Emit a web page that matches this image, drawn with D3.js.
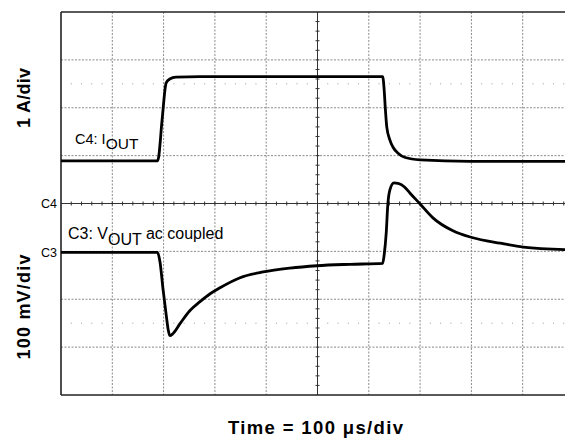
<!DOCTYPE html>
<html><head><meta charset="utf-8">
<script src="https://cdn.jsdelivr.net/npm/d3@7/dist/d3.min.js"></script>
<style>body{margin:0;background:#fff}svg{display:block}text{font-family:"Liberation Sans",Arial,sans-serif}</style>
</head><body><svg id="c" width="565" height="438"></svg>
<script>
// time in microseconds
const iTime = [0,188,190,197,205,212,224,271,627,630,632,635,641,647,657,671,700,797,1000];
// output current (A), relative to C4 marker
const iOut  = [0.89,0.89,0.95,1.74,2.52,2.60,2.64,2.65,2.65,2.37,2.02,1.60,1.33,1.18,1.05,0.96,0.91,0.88,0.88];
const vTime = [0,188,193,199,205,209,212,218,232,251,271,290,310,349,394,446,499,563,627,630,634,637,641,649,657,669,680,700,725,764,801,856,901,1000];
// output voltage, ac coupled (mV), relative to C3 marker
const vOut  = [0,0,-20,-78,-130,-162,-174,-170,-149,-122,-103,-87,-74,-53,-41,-33,-28,-25,-23,-5,41,99,130,145,144,137,124,101,72,45,31,19,11,5];
const xLabel = "Time = 100 \u03bcs/div";
const yLabelTop = "1 A/div";
const yLabelBottom = "100 mV/div";

const svg = d3.select("#c");
const L=61, T=12, B=395, W=513;
const x = d3.scaleLinear([0,1000],[L,L+W]);
const yI = d3.scaleLinear([-4,4],[B,T]);
const yV = d3.scaleLinear([-298,502],[B,T]);
const yDiv = d3.scaleLinear([-4,4],[B,T]);

const g = svg.append("g");
// grid
const xDivs = d3.range(1,10).filter(d=>d!==5);
const yDivs = d3.range(-3,4).filter(d=>d!==0);
g.selectAll("line.gx").data(xDivs).join("line")
  .attr("x1",d=>x(d*100)).attr("x2",d=>x(d*100)).attr("y1",T).attr("y2",B)
  .attr("stroke","#8a8a8a").attr("stroke-width",1).attr("stroke-dasharray","2,1.5");
g.selectAll("line.gy").data(yDivs).join("line")
  .attr("x1",L).attr("x2",L+W).attr("y1",d=>yDiv(d)).attr("y2",d=>yDiv(d))
  .attr("stroke","#8a8a8a").attr("stroke-width",1).attr("stroke-dasharray","2,1.5");
// dotted helper lines
const dots = d3.range(1,50).filter(d=>d%5!==0);
[2.5,-2.5].forEach(v=>{
  g.selectAll(null).data(dots).join("rect")
   .attr("x",d=>x(d*20)-0.5).attr("y",yDiv(v)-0.5).attr("width",1).attr("height",1).attr("fill","#999");
});
// center axes with ticks
g.append("line").attr("x1",L).attr("x2",L+W).attr("y1",yDiv(0)).attr("y2",yDiv(0)).attr("stroke","#333").attr("stroke-width",1);
g.append("line").attr("x1",x(500)).attr("x2",x(500)).attr("y1",T).attr("y2",B).attr("stroke","#333").attr("stroke-width",1);
g.selectAll(null).data(d3.range(1,50)).join("line")
  .attr("x1",d=>x(d*20)).attr("x2",d=>x(d*20)).attr("y1",yDiv(0)-2).attr("y2",yDiv(0)+2).attr("stroke","#333");
g.selectAll(null).data(d3.range(-19,20).map(d=>d/5)).join("line")
  .attr("y1",d=>yDiv(d)).attr("y2",d=>yDiv(d)).attr("x1",x(500)-2).attr("x2",x(500)+2).attr("stroke","#333");
// frame
g.append("line").attr("x1",L).attr("x2",565).attr("y1",T).attr("y2",T).attr("stroke","#222").attr("stroke-width",1.6);
g.append("line").attr("x1",L).attr("x2",565).attr("y1",B).attr("y2",B).attr("stroke","#222").attr("stroke-width",1.6);
g.append("line").attr("x1",L).attr("x2",L).attr("y1",T).attr("y2",B).attr("stroke","#222").attr("stroke-width",1.6);

// traces
const lineI = d3.line().x((d,i)=>x(iTime[i])).y(d=>yI(d)).curve(d3.curveMonotoneX);
const lineV = d3.line().x((d,i)=>x(vTime[i])).y(d=>yV(d)).curve(d3.curveMonotoneX);
g.append("path").attr("d",lineI(iOut)).attr("fill","none").attr("stroke","#000").attr("stroke-width",2.8).attr("stroke-linejoin","round");
g.append("path").attr("d",lineV(vOut)).attr("fill","none").attr("stroke","#000").attr("stroke-width",2.8).attr("stroke-linejoin","round");

// channel markers
svg.append("text").attr("x",57).attr("y",yI(0)+4.5).attr("text-anchor","end").attr("font-size",12.5).text("C4");
svg.append("text").attr("x",57).attr("y",yV(0)+4.5).attr("text-anchor","end").attr("font-size",12.5).text("C3");

// trace labels
const t1 = svg.append("text").attr("x",75).attr("y",144).attr("font-size",14.5);
t1.append("tspan").text("C4: I");
t1.append("tspan").attr("dy",5).attr("font-size",15.5).text("OUT");
const t2 = svg.append("text").attr("x",68).attr("y",238.5).attr("font-size",16);
t2.append("tspan").text("C3: V");
t2.append("tspan").attr("dy",6).text("OUT");
t2.append("tspan").attr("dy",-6).text(" ac coupled");

// axis labels
svg.append("text").attr("x",315.5).attr("y",434).attr("text-anchor","middle")
  .attr("font-size",18.5).attr("font-weight","bold").attr("textLength",175).attr("lengthAdjust","spacing").text(xLabel);
svg.append("text").attr("transform","translate(30,98) rotate(-90)").attr("text-anchor","middle")
  .attr("font-size",18).attr("font-weight","bold").attr("textLength",60).attr("lengthAdjust","spacing").text(yLabelTop);
svg.append("text").attr("transform","translate(30,307) rotate(-90)").attr("text-anchor","middle")
  .attr("font-size",18).attr("font-weight","bold").attr("textLength",105).attr("lengthAdjust","spacing").text(yLabelBottom);
</script></body></html>
